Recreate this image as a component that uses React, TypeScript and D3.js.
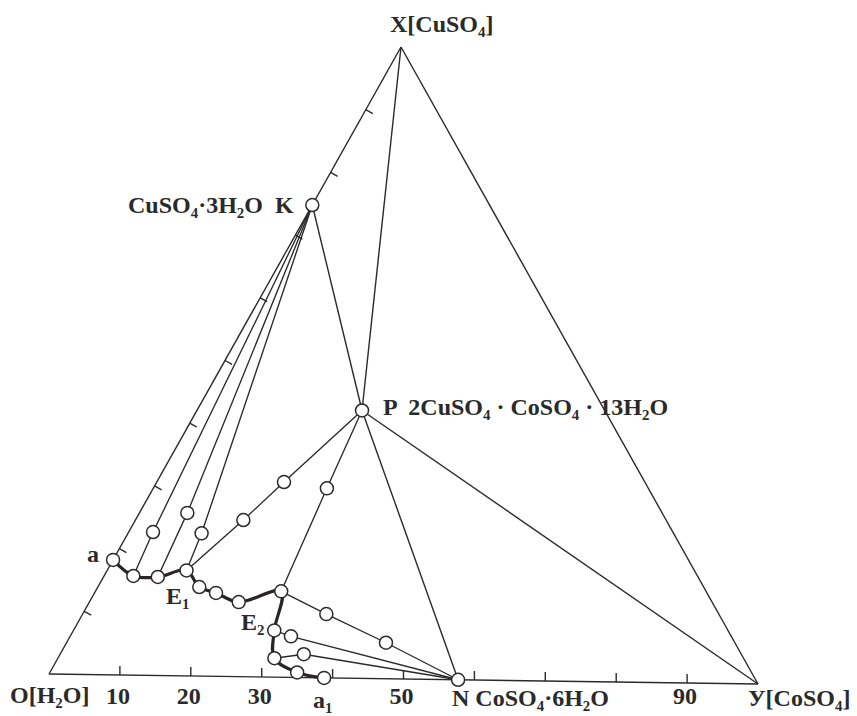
import React from "react";
import * as d3 from "d3";

// Ternary system H2O – CuSO4 – CoSO4 (mass %)
// Liquid compositions along the solubility curve (a → E1 → E2 → a1)
const curveCoSO4 = [0, 4.1, 7.6, 11.1, 14.2, 17.0, 20.9, 26.0, 28.1, 30.3, 34.6, 38.8];
const curveCuSO4 = [18.2, 15.7, 15.6, 16.7, 14.1, 13.2, 11.8, 13.6, 7.4, 3.0, 0.8, 0];

// Solid phases K, P, N
const solidNames = ["K", "P", "N"];
const solidCoSO4 = [0, 23.1, 57.7];
const solidCuSO4 = [74.8, 42.4, 0];

// Tie lines: liquid index on the curve -> wet residues -> solid phase
const tieLiquid = [1, 2, 3, 3, 7, 7, 8, 9];
const tieResidues = [[0], [1], [2], [3, 4], [5], [6, 7], [8], [9]];
const tieSolid = ["K", "K", "K", "P", "P", "N", "N", "N"];

// Wet residues ("rest" points) on the tie lines
const residueCoSO4 = [3.4, 6.7, 10.3, 15.1, 17.8, 24.3, 34.1, 44.7, 30.9, 34.1];
const residueCuSO4 = [22.7, 25.8, 22.6, 24.8, 30.9, 30.0, 10.1, 5.7, 6.5, 3.7];

// Axis ticks and tick labels
const tickValues = [10, 20, 30, 40, 50, 60, 70, 80, 90];
const baseLabelValues = [10, 20, 30, 50, 90];
const baseLabels = ["10", "20", "30", "50", "90"];

const W = 857;
const H = 716;
const VO = { x: 49, y: 674 };
const VY = { x: 758, y: 684 };
const VX = { x: 401, y: 47 };

const coX = d3.scaleLinear().domain([0, 100]).range([0, VY.x - VO.x]);
const coY = d3.scaleLinear().domain([0, 100]).range([0, VY.y - VO.y]);
const cuX = d3.scaleLinear().domain([0, 100]).range([0, VX.x - VO.x]);
const cuY = d3.scaleLinear().domain([0, 100]).range([0, VX.y - VO.y]);
const project = (co: number, cu: number): [number, number] => [
  VO.x + coX(co) + cuX(cu),
  VO.y + coY(co) + cuY(cu),
];

const INK = "#2a2a2a";
const FONT = "'Liberation Serif', 'Times New Roman', serif";

function Rich({ x, y, text, size = 24, anchor = "start" }: { x: number; y: number; text: string; size?: number; anchor?: string }) {
  const parts: { t: string; sub: boolean }[] = [];
  let buf = "";
  for (let i = 0; i < text.length; i++) {
    if (text[i] === "_") {
      if (buf) parts.push({ t: buf, sub: false });
      buf = "";
      parts.push({ t: text[i + 1], sub: true });
      i++;
    } else buf += text[i];
  }
  if (buf) parts.push({ t: buf, sub: false });
  const shift = size * 0.22;
  let prevSub = false;
  return (
    <text x={x} y={y} fontFamily={FONT} fontWeight="bold" fontSize={size} fill={INK} textAnchor={anchor} style={{ whiteSpace: "pre" }}>
      {parts.map((p, i) => {
        let dy = 0;
        if (p.sub && !prevSub) dy = shift;
        else if (!p.sub && prevSub) dy = -shift;
        prevSub = p.sub;
        return (
          <tspan key={i} dy={dy} fontSize={p.sub ? size * 0.62 : size}>
            {p.t}
          </tspan>
        );
      })}
    </text>
  );
}

export default function App() {
  const solid = (name: string) => {
    const i = solidNames.indexOf(name);
    return project(solidCoSO4[i], solidCuSO4[i]);
  };
  const K = solid("K");
  const P = solid("P");
  const N = solid("N");
  const O: [number, number] = project(0, 0);
  const Y: [number, number] = project(100, 0);
  const X: [number, number] = project(0, 100);

  const curvePts = curveCoSO4.map((c, i) => project(c, curveCuSO4[i]));
  const curveLine = d3.line().curve(d3.curveCatmullRom.alpha(0.5));
  const straight = d3.line();
  const residuePts = residueCoSO4.map((c, i) => project(c, residueCuSO4[i]));

  // inward normal of left edge
  const ex = X[0] - O[0], ey = X[1] - O[1];
  const el = Math.hypot(ex, ey);
  const nx = -ey / el, ny = ex / el;

  const seg = (a: [number, number], b: [number, number], key: string, w = 1.4) => (
    <line key={key} x1={a[0]} y1={a[1]} x2={b[0]} y2={b[1]} stroke={INK} strokeWidth={w} />
  );

  return (
    <svg width={W} height={H} style={{ position: "absolute", left: 0, top: 0, background: "#fff" }}>
      <rect width={W} height={H} fill="#fff" />
      {/* triangle */}
      {seg(O, Y, "b")}
      {seg(O, X, "l")}
      {seg(X, Y, "r")}
      {/* ticks */}
      {tickValues.map((v) => {
        const p = project(v, 0);
        return <line key={"bt" + v} x1={p[0]} y1={p[1]} x2={p[0]} y2={p[1] - 9} stroke={INK} strokeWidth={1.4} />;
      })}
      {tickValues.map((v) => {
        const p = project(0, v);
        return <line key={"lt" + v} x1={p[0]} y1={p[1]} x2={p[0] + nx * 8} y2={p[1] + ny * 8} stroke={INK} strokeWidth={1.4} />;
      })}
      {/* phase diagram joins */}
      {seg(K, P, "kp")}
      {seg(X, P, "xp")}
      {seg(P, Y, "py")}
      {seg(P, N, "pn")}
      {/* tie lines: liquid -> wet residue(s) -> solid */}
      {tieLiquid.map((li, i) => {
        const pts: [number, number][] = [curvePts[li], ...tieResidues[i].map((r) => residuePts[r]), solid(tieSolid[i])];
        return <path key={"t" + i} d={straight(pts) || ""} fill="none" stroke={INK} strokeWidth={1.35} />;
      })}
      {/* solubility curve */}
      <path d={curveLine(curvePts) || ""} fill="none" stroke="#2a2424" strokeWidth={3.2} />
      {/* points */}
      {[...curvePts, ...residuePts, K, P, N].map((p, i) => (
        <circle key={"c" + i} cx={p[0]} cy={p[1]} r={6.5} fill="#fff" stroke={INK} strokeWidth={1.5} />
      ))}
      {/* labels */}
      <Rich x={390} y={32} text="X[CuSO_4]" />
      <Rich x={128} y={213} text="CuSO_4·3H_2O  K" />
      <Rich x={383} y={415} text="P  2CuSO_4 · CoSO_4 · 13H_2O" />
      <Rich x={87} y={562} text="a" />
      <Rich x={166} y={604} text="E_1" />
      <Rich x={241} y={630} text="E_2" />
      <Rich x={313} y={708} text="a_1" />
      <Rich x={10} y={703} text="O[H_2O]" />
      {baseLabelValues.map((v, i) => {
        const p = project(v, 0);
        return <Rich key={"bl" + v} x={p[0] - 2} y={704} text={baseLabels[i]} anchor="middle" />;
      })}
      <Rich x={452} y={706} text="N CoSO_4·6H_2O" />
      <Rich x={748} y={706} text="У[CoSO_4]" />
    </svg>
  );
}
